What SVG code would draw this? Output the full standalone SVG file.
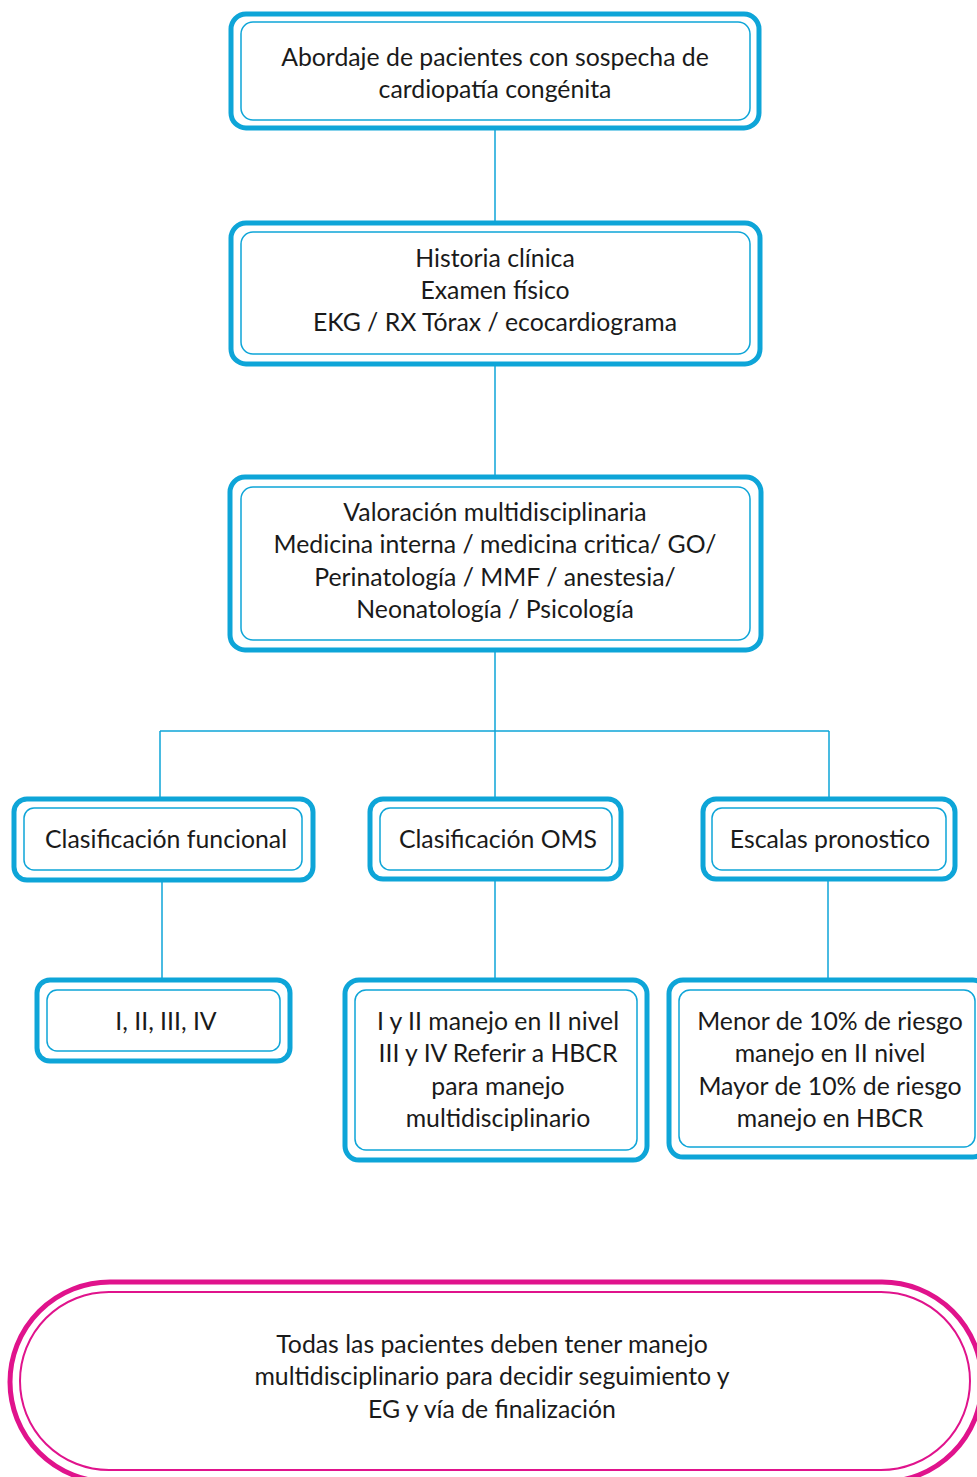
<svg xmlns="http://www.w3.org/2000/svg" width="977" height="1477" viewBox="0 0 977 1477">
  <style>
    .outer { fill: #ffffff; stroke: #0ea5d8; stroke-width: 5; }
    .inner { fill: #ffffff; stroke: #0ea5d8; stroke-width: 1.5; }
    .pout { fill: #ffffff; stroke: #e0138c; stroke-width: 5; }
    .pin { fill: none; stroke: #e0138c; stroke-width: 2; }
    .wire { fill: none; stroke: #0ea5d8; stroke-width: 1.5; }
    text { font-family: Lato, "Open Sans", "Liberation Sans", sans-serif; font-size: 24.8px; fill: #1a1a1a; text-anchor: middle; }
  </style>
  <rect width="977" height="1477" fill="#ffffff"/>

  <g id="connectors">
    <path class="wire" d="M495 128 V223"/>
    <path class="wire" d="M495 364 V477"/>
    <path class="wire" d="M495 650 V731 M160 731 H829 M160 731 V799 M495 731 V799 M829 731 V799"/>
    <path class="wire" d="M162 880 V980"/>
    <path class="wire" d="M495 879 V980"/>
    <path class="wire" d="M828 879 V980"/>
  </g>

  <g id="n-abordaje">
    <rect class="outer" x="231" y="14" width="528" height="114" rx="15"/>
    <rect class="inner" x="241" y="22" width="509" height="98" rx="12"/>
    <text x="495" y="66">Abordaje de pacientes con sospecha de</text>
    <text x="495" y="98">cardiopatía congénita</text>
  </g>

  <g id="n-historia">
    <rect class="outer" x="231" y="223" width="529" height="141" rx="15"/>
    <rect class="inner" x="241" y="232" width="509" height="122" rx="12"/>
    <text x="495" y="267">Historia clínica</text>
    <text x="495" y="299">Examen físico</text>
    <text x="495" y="331">EKG / RX Tórax / ecocardiograma</text>
  </g>

  <g id="n-valoracion">
    <rect class="outer" x="230" y="477" width="531" height="173" rx="15"/>
    <rect class="inner" x="241" y="487" width="509" height="153" rx="12"/>
    <text x="495" y="521">Valoración multidisciplinaria</text>
    <text x="495" y="553">Medicina interna / medicina critica/ GO/</text>
    <text x="495" y="586">Perinatología / MMF / anestesia/</text>
    <text x="495" y="618">Neonatología / Psicología</text>
  </g>

  <g id="n-funcional">
    <rect class="outer" x="14" y="799" width="299" height="81" rx="13"/>
    <rect class="inner" x="24" y="808" width="278" height="62" rx="10"/>
    <text x="166" y="848">Clasificación funcional</text>
  </g>

  <g id="n-oms">
    <rect class="outer" x="370" y="799" width="251" height="80" rx="13"/>
    <rect class="inner" x="380" y="808" width="232" height="62" rx="10"/>
    <text x="498" y="848">Clasificación OMS</text>
  </g>

  <g id="n-escalas">
    <rect class="outer" x="703" y="799" width="252" height="80" rx="13"/>
    <rect class="inner" x="712" y="808" width="234" height="62" rx="10"/>
    <text x="830" y="848">Escalas pronostico</text>
  </g>

  <g id="n-clases">
    <rect class="outer" x="37" y="980" width="253" height="81" rx="13"/>
    <rect class="inner" x="47" y="990" width="233" height="61" rx="10"/>
    <text x="166" y="1030">I, II, III, IV</text>
  </g>

  <g id="n-manejo-oms">
    <rect class="outer" x="345" y="980" width="302" height="180" rx="14"/>
    <rect class="inner" x="355" y="990" width="282" height="160" rx="11"/>
    <text x="498" y="1030">I y II manejo en II nivel</text>
    <text x="498" y="1062">III y IV Referir a HBCR</text>
    <text x="498" y="1095">para manejo</text>
    <text x="498" y="1127">multidisciplinario</text>
  </g>

  <g id="n-riesgo">
    <rect class="outer" x="669" y="980" width="318" height="177" rx="14"/>
    <rect class="inner" x="679" y="990" width="296" height="157" rx="11"/>
    <text x="830" y="1030">Menor de 10% de riesgo</text>
    <text x="830" y="1062">manejo en II nivel</text>
    <text x="830" y="1095">Mayor de 10% de riesgo</text>
    <text x="830" y="1127">manejo en HBCR</text>
  </g>

  <g id="n-nota">
    <rect class="pout" x="10" y="1282" width="972" height="200" rx="100"/>
    <rect class="pin" x="20" y="1292" width="950" height="178" rx="89"/>
    <text x="492" y="1353">Todas las pacientes deben tener manejo</text>
    <text x="492" y="1385">multidisciplinario para decidir seguimiento y</text>
    <text x="492" y="1418">EG y vía de finalización</text>
  </g>
</svg>
